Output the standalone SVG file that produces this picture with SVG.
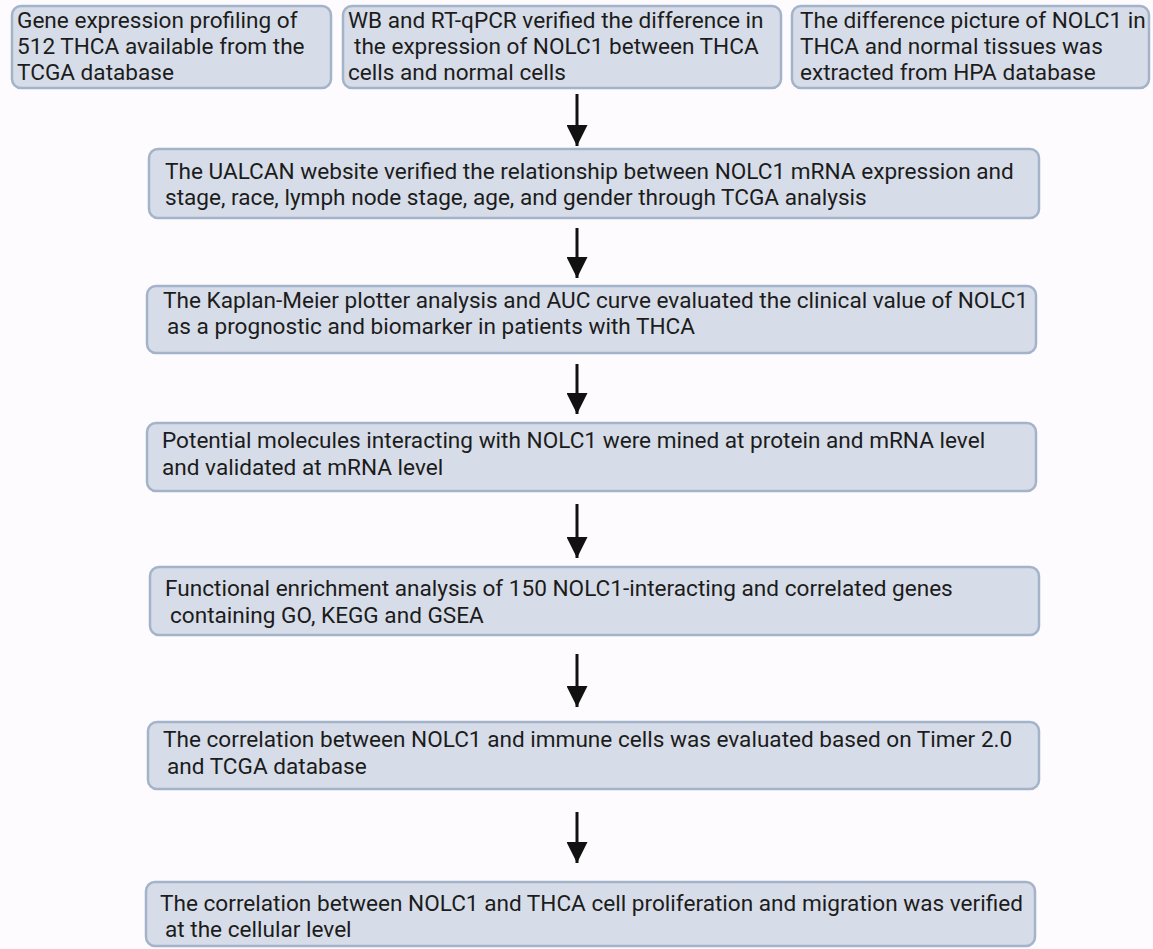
<svg xmlns="http://www.w3.org/2000/svg" width="1153" height="949" viewBox="0 0 1153 949">
<defs>
<style>
.bg{fill:#fdfbfd}
.box{fill:#d7dde8;stroke:#a3b3c9;stroke-width:2.5}
.t{font-family:Roboto,"Liberation Sans",sans-serif;font-size:22.6px;fill:#1c1c1c}
.conn line{stroke:#111;stroke-width:3}
</style>
<marker id="ah" viewBox="0 0 10 10" refX="10" refY="5" markerWidth="7" markerHeight="7" markerUnits="strokeWidth" orient="auto">
<path d="M0,0 L10,5 L0,10 z" fill="#111"/>
</marker>
</defs>
<rect class="bg" x="0" y="0" width="1153" height="949"/>
<g id="n1">
<rect class="box" x="12" y="6" width="319" height="82" rx="9"/>
<text class="t" x="17" y="28">Gene expression profiling of</text>
<text class="t" x="17" y="54">512 THCA available from the</text>
<text class="t" x="17" y="80">TCGA database</text>
</g>
<g id="n2">
<rect class="box" x="343" y="6" width="438" height="82" rx="9"/>
<text class="t" x="348" y="28">WB and RT-qPCR verified the difference in</text>
<text class="t" x="354" y="54">the expression of NOLC1 between THCA</text>
<text class="t" x="348" y="80">cells and normal cells</text>
</g>
<g id="n3">
<rect class="box" x="792" y="6" width="357" height="82" rx="9"/>
<text class="t" x="800" y="28">The difference picture of NOLC1 in</text>
<text class="t" x="800" y="54">THCA and normal tissues was</text>
<text class="t" x="800" y="80">extracted from HPA database</text>
</g>
<g id="n4">
<rect class="box" x="149" y="149" width="890" height="69" rx="9"/>
<text class="t" x="165" y="179">The UALCAN website verified the relationship between NOLC1 mRNA expression and</text>
<text class="t" x="165" y="205">stage, race, lymph node stage, age, and gender through TCGA analysis</text>
</g>
<g id="n5">
<rect class="box" x="147" y="286" width="889" height="67" rx="9"/>
<text class="t" x="163" y="308">The Kaplan-Meier plotter analysis and AUC curve evaluated the clinical value of NOLC1</text>
<text class="t" x="167" y="334">as a prognostic and biomarker in patients with THCA</text>
</g>
<g id="n6">
<rect class="box" x="147" y="423" width="889" height="68" rx="9"/>
<text class="t" x="162" y="448">Potential molecules interacting with NOLC1 were mined at protein and mRNA level</text>
<text class="t" x="162" y="475">and validated at mRNA level</text>
</g>
<g id="n7">
<rect class="box" x="150" y="567" width="889" height="68" rx="9"/>
<text class="t" x="165" y="596">Functional enrichment analysis of 150 NOLC1-interacting and correlated genes</text>
<text class="t" x="170" y="623">containing GO, KEGG and GSEA</text>
</g>
<g id="n8">
<rect class="box" x="148" y="722" width="891" height="67" rx="9"/>
<text class="t" x="163" y="747">The correlation between NOLC1 and immune cells was evaluated based on Timer 2.0</text>
<text class="t" x="167" y="774">and TCGA database</text>
</g>
<g id="n9">
<rect class="box" x="146" y="882" width="889" height="64" rx="9"/>
<text class="t" x="160" y="911">The correlation between NOLC1 and THCA cell proliferation and migration was verified</text>
<text class="t" x="165" y="937">at the cellular level</text>
</g>
<g id="connectors" class="conn">
<line x1="577" y1="94" x2="577" y2="146" marker-end="url(#ah)"/>
<line x1="577" y1="228" x2="577" y2="278" marker-end="url(#ah)"/>
<line x1="577" y1="364" x2="577" y2="414" marker-end="url(#ah)"/>
<line x1="577" y1="504" x2="577" y2="558" marker-end="url(#ah)"/>
<line x1="577" y1="654" x2="577" y2="707" marker-end="url(#ah)"/>
<line x1="577" y1="812" x2="577" y2="863" marker-end="url(#ah)"/>
</g>
</svg>
